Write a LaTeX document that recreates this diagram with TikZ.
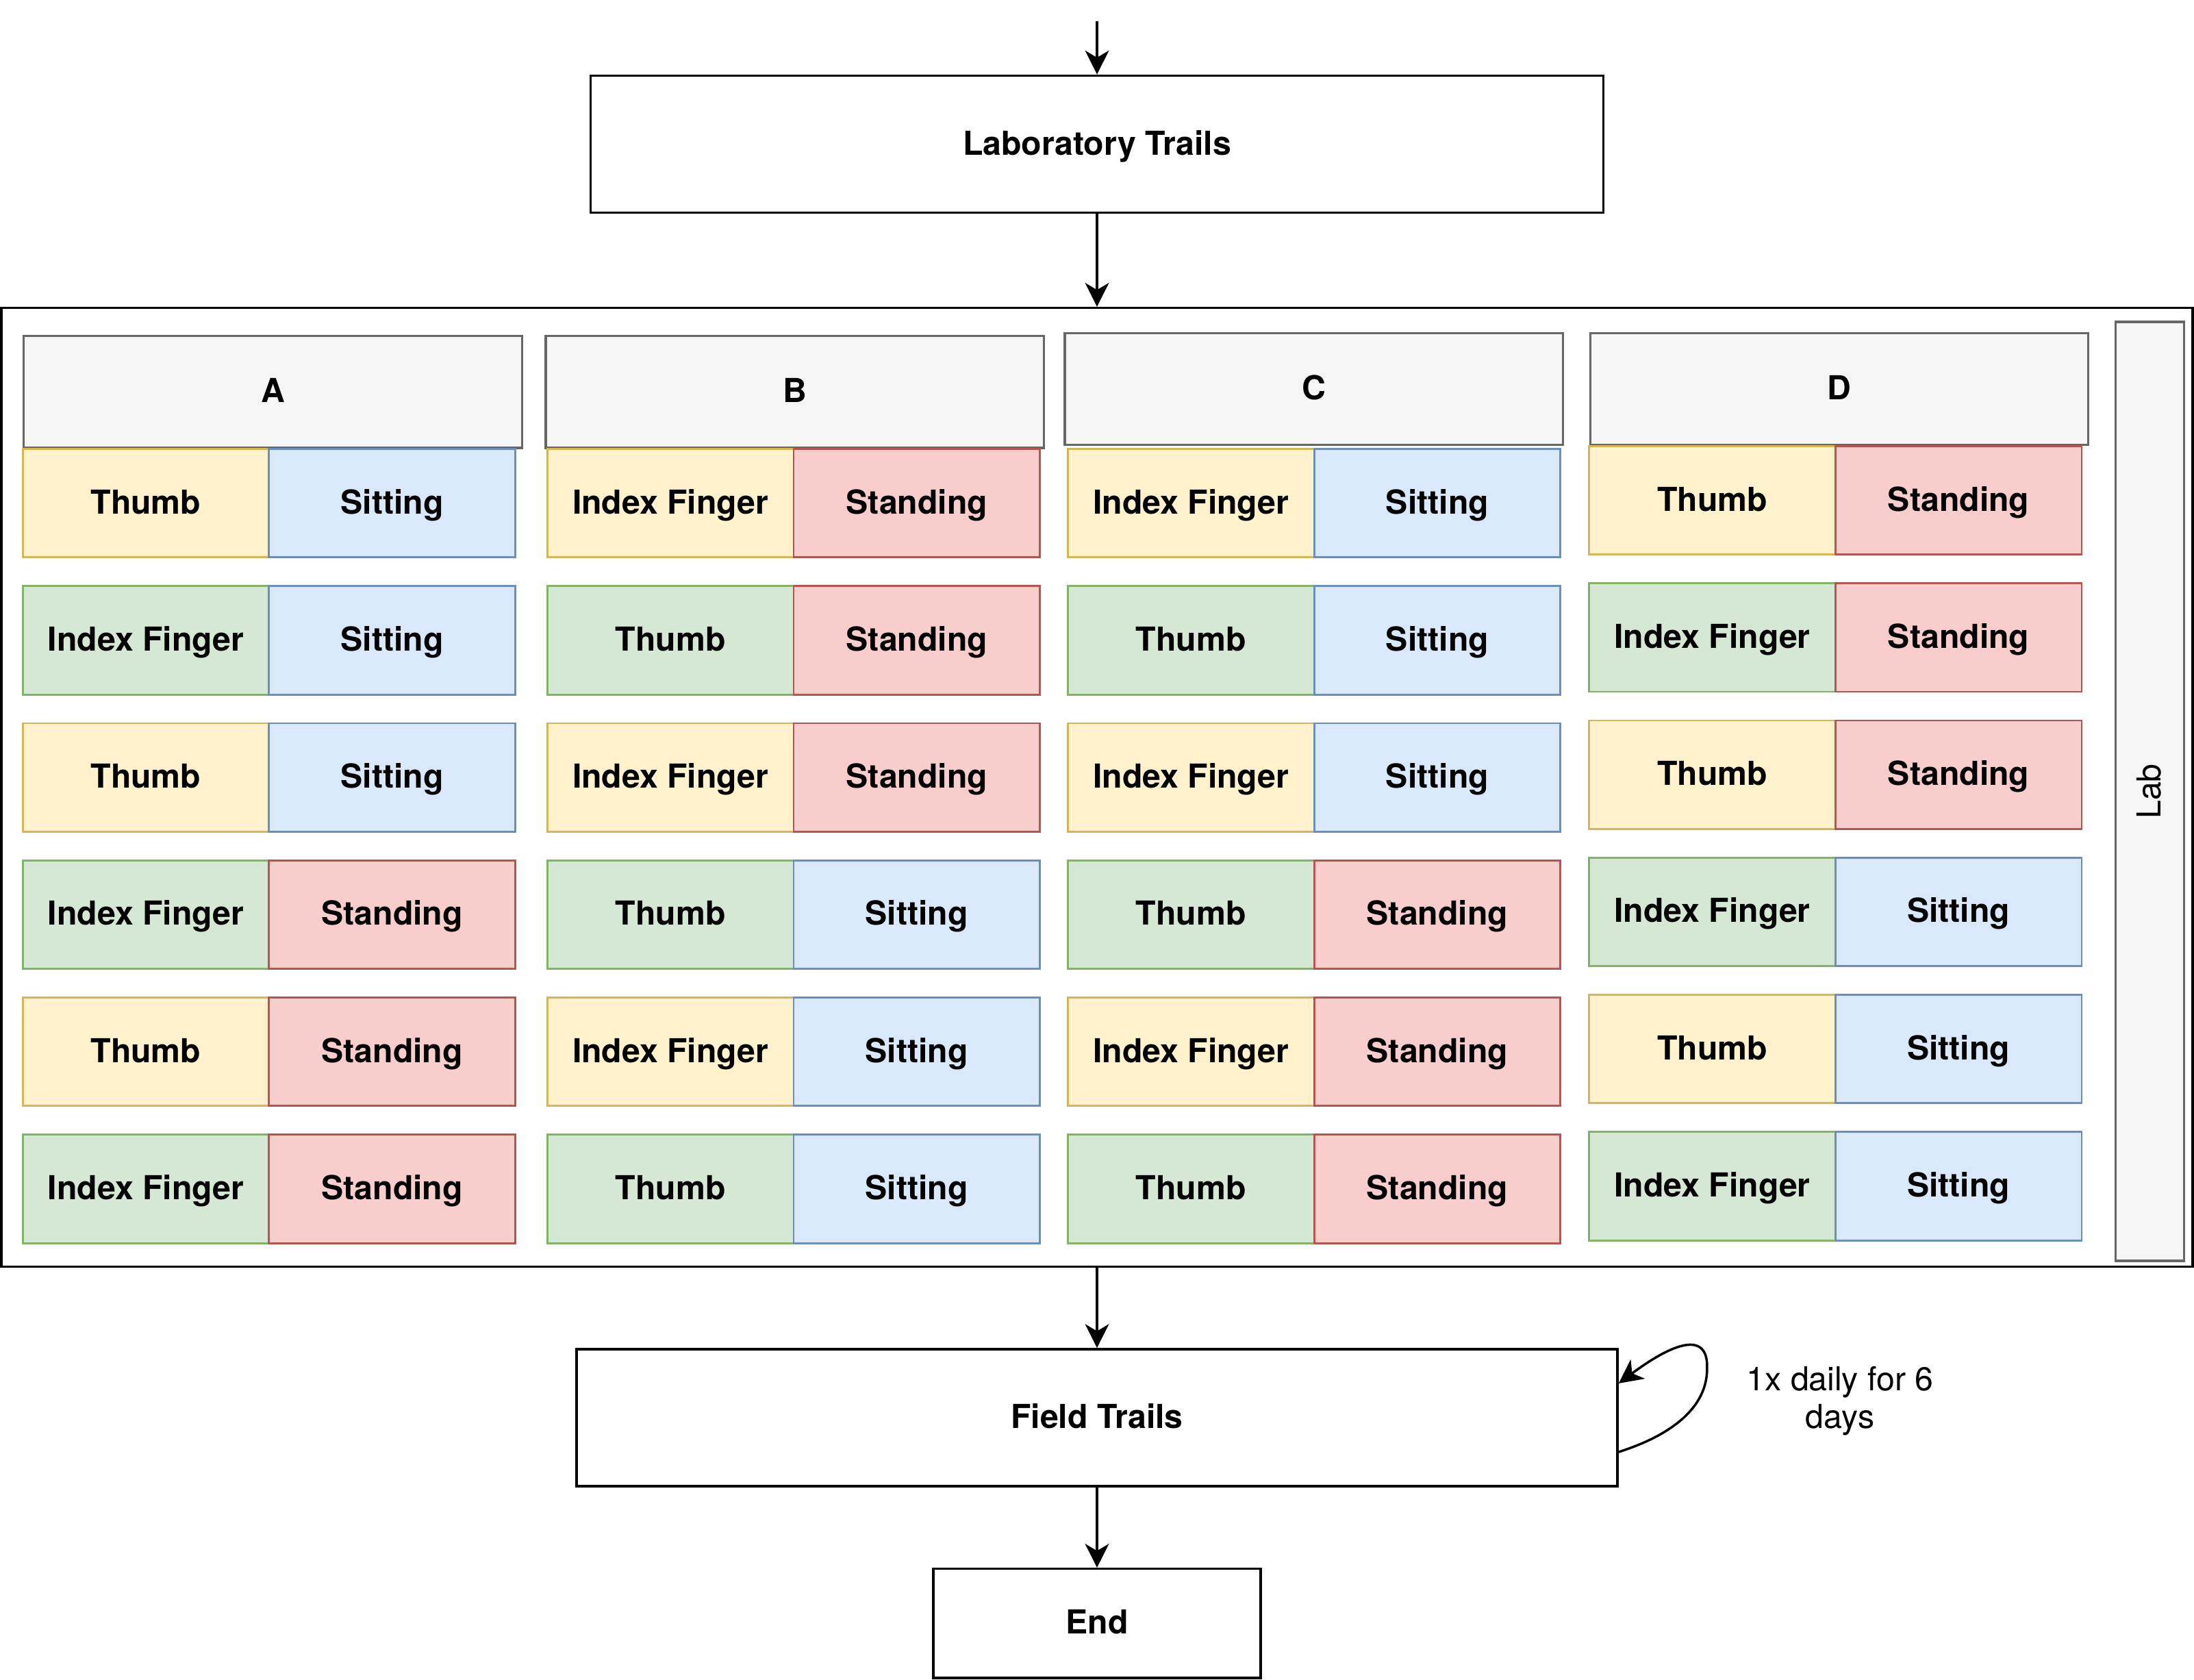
\documentclass[tikz,border=0pt]{standalone}
\usepackage{fontspec}
\setmainfont{TeX Gyre Heros}
\usepackage{tikz}
\usetikzlibrary{arrows.meta,positioning}
\definecolor{headfill}{HTML}{F5F5F5}
\definecolor{headline}{HTML}{666666}
\definecolor{yellowfill}{HTML}{FFF2CC}
\definecolor{yellowline}{HTML}{D6B656}
\definecolor{greenfill}{HTML}{D5E8D4}
\definecolor{greenline}{HTML}{82B366}
\definecolor{bluefill}{HTML}{DAE8FC}
\definecolor{blueline}{HTML}{6C8EBF}
\definecolor{redfill}{HTML}{F8CECC}
\definecolor{redline}{HTML}{B85450}
\newcommand{\diagfont}{\fontsize{11.8pt}{13.6pt}\selectfont}
\tikzset{
    box/.style={rectangle,draw,line width=0.85pt,inner sep=0pt,text height=8.6pt,text depth=1pt,font=\diagfont\bfseries},
    head/.style={rectangle,draw=headline,fill=headfill,line width=0.8pt,minimum width=178pt,minimum height=40pt,text height=8.6pt,text depth=1pt,font=\diagfont\bfseries},
    cell/.style={rectangle,line width=0.7pt,minimum width=88pt,minimum height=38.75pt,inner sep=0pt,outer sep=0pt,text height=8.6pt,text depth=1pt,font=\diagfont\bfseries},
    yellowcell/.style={cell,draw=yellowline,fill=yellowfill},
    greencell/.style={cell,draw=greenline,fill=greenfill},
    sitting/.style={cell,draw=blueline,fill=bluefill},
    standing/.style={cell,draw=redline,fill=redfill},
    pre/.style={-{Stealth[length=8.5pt,width=8.5pt,inset=2.5pt]},line width=0.85pt},
    post/.style={{Stealth[length=8.5pt,width=8.5pt,inset=2.5pt]}-,line width=0.85pt}
}

\begin{document}
\begin{tikzpicture}[x=0.5pt,y=0.5pt]
    \useasboundingbox (0,0) rectangle (1568,-1200);
    \coordinate (start) at (784,-15);
    \node[box,minimum width=362pt,minimum height=49pt] (lab) at (784,-103) {Laboratory Trails}
        edge[post] (start);
    \node[box,minimum width=783pt,minimum height=342.5pt] (trials) at (784,-562.5) {}
        edge[post] (lab);

    % groups
    \node[head] (ha) at (195,-280) {A};
    \node[head] (hb) at (568,-280) {B};
    \node[head] (hc) at (939,-278) {C};
    \node[head] (hd) at (1314.5,-278) {D};
    \node[head,rotate=90,minimum width=335.5pt,minimum height=24.5pt,font=\diagfont] (labside) at (1536.5,-565.5) {Lab};

    % group A
    \node[yellowcell] (a1) [below right=0pt and 0pt of ha.south west] {Thumb};
    \node[sitting] (a1r) [right=0pt of a1] {Sitting};
    \node[greencell] (a2) [below=10.25pt of a1] {Index Finger};
    \node[sitting] (a2r) [right=0pt of a2] {Sitting};
    \node[yellowcell] (a3) [below=10.25pt of a2] {Thumb};
    \node[sitting] (a3r) [right=0pt of a3] {Sitting};
    \node[greencell] (a4) [below=10.25pt of a3] {Index Finger};
    \node[standing] (a4r) [right=0pt of a4] {Standing};
    \node[yellowcell] (a5) [below=10.25pt of a4] {Thumb};
    \node[standing] (a5r) [right=0pt of a5] {Standing};
    \node[greencell] (a6) [below=10.25pt of a5] {Index Finger};
    \node[standing] (a6r) [right=0pt of a6] {Standing};

    % group B
    \node[yellowcell] (b1) [below right=0pt and 1pt of hb.south west] {Index Finger};
    \node[standing] (b1r) [right=0pt of b1] {Standing};
    \node[greencell] (b2) [below=10.25pt of b1] {Thumb};
    \node[standing] (b2r) [right=0pt of b2] {Standing};
    \node[yellowcell] (b3) [below=10.25pt of b2] {Index Finger};
    \node[standing] (b3r) [right=0pt of b3] {Standing};
    \node[greencell] (b4) [below=10.25pt of b3] {Thumb};
    \node[sitting] (b4r) [right=0pt of b4] {Sitting};
    \node[yellowcell] (b5) [below=10.25pt of b4] {Index Finger};
    \node[sitting] (b5r) [right=0pt of b5] {Sitting};
    \node[greencell] (b6) [below=10.25pt of b5] {Thumb};
    \node[sitting] (b6r) [right=0pt of b6] {Sitting};

    % group C
    \node[yellowcell] (c1) [below right=1pt and 1.5pt of hc.south west] {Index Finger};
    \node[sitting] (c1r) [right=0pt of c1] {Sitting};
    \node[greencell] (c2) [below=10.25pt of c1] {Thumb};
    \node[sitting] (c2r) [right=0pt of c2] {Sitting};
    \node[yellowcell] (c3) [below=10.25pt of c2] {Index Finger};
    \node[sitting] (c3r) [right=0pt of c3] {Sitting};
    \node[greencell] (c4) [below=10.25pt of c3] {Thumb};
    \node[standing] (c4r) [right=0pt of c4] {Standing};
    \node[yellowcell] (c5) [below=10.25pt of c4] {Index Finger};
    \node[standing] (c5r) [right=0pt of c5] {Standing};
    \node[greencell] (c6) [below=10.25pt of c5] {Thumb};
    \node[standing] (c6r) [right=0pt of c6] {Standing};

    % group D
    \node[yellowcell] (d1) [below right=0pt and 0pt of hd.south west] {Thumb};
    \node[standing] (d1r) [right=0pt of d1] {Standing};
    \node[greencell] (d2) [below=10.25pt of d1] {Index Finger};
    \node[standing] (d2r) [right=0pt of d2] {Standing};
    \node[yellowcell] (d3) [below=10.25pt of d2] {Thumb};
    \node[standing] (d3r) [right=0pt of d3] {Standing};
    \node[greencell] (d4) [below=10.25pt of d3] {Index Finger};
    \node[sitting] (d4r) [right=0pt of d4] {Sitting};
    \node[yellowcell] (d5) [below=10.25pt of d4] {Thumb};
    \node[sitting] (d5r) [right=0pt of d5] {Sitting};
    \node[greencell] (d6) [below=10.25pt of d5] {Index Finger};
    \node[sitting] (d6r) [right=0pt of d6] {Sitting};

    \node[box,minimum width=372pt,minimum height=49pt] (field) at (784,-1013) {Field Trails}
        edge[post] (trials);
    \node[box,minimum width=117pt,minimum height=39pt] (finish) at (784,-1160) {End}
        edge[post] (field);
    \draw[pre] ([yshift=-12.25pt]field.east) .. controls (1196,-1025) and (1220,-1005) .. (1220,-978)
        .. controls (1221,-950) and (1195,-960) .. ([yshift=12.25pt]field.east);
    \node[align=center,font=\diagfont] (note) at (1315,-1001) {1x daily for 6\\days};
\end{tikzpicture}
\end{document}
